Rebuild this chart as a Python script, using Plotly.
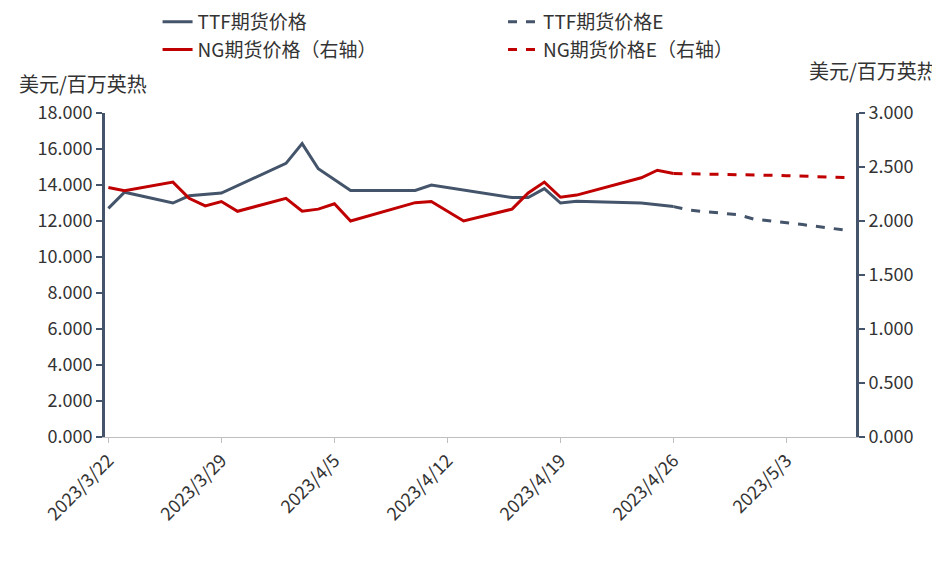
import plotly.graph_objects as go
import pandas as pd

base = pd.Timestamp("2023-03-22")
ttf_days = [0, 1, 4, 5, 7, 11, 12, 13, 15, 19, 20, 25, 26, 27, 28, 29, 33, 35]
ttf_vals = [12.7, 13.6, 13.0, 13.4, 13.55, 15.2, 16.3, 14.9, 13.7, 13.7, 14.0, 13.3, 13.3, 13.8, 13.0, 13.1, 13.0, 12.8]
ttfe_days = [35, 36, 39, 40, 43, 46]
ttfe_vals = [12.8, 12.6, 12.35, 12.1, 11.8, 11.45]
ng_days = [0, 1, 4, 5, 6, 7, 8, 11, 12, 13, 14, 15, 19, 20, 22, 25, 26, 27, 28, 29, 33, 34, 35]
ng_vals = [2.31, 2.28, 2.36, 2.21, 2.14, 2.18, 2.09, 2.21, 2.09, 2.11, 2.16, 2.0, 2.17, 2.18, 2.0, 2.11, 2.26, 2.36, 2.22, 2.24, 2.40, 2.47, 2.44]
nge_days = [35, 42, 46]
nge_vals = [2.44, 2.42, 2.40]
tick_dates = ["2023-03-22", "2023-03-29", "2023-04-05", "2023-04-12", "2023-04-19", "2023-04-26", "2023-05-03"]
tick_text = ["2023/3/22", "2023/3/29", "2023/4/5", "2023/4/12", "2023/4/19", "2023/4/26", "2023/5/3"]

d = lambda days: [base + pd.Timedelta(days=x) for x in days]
C1, C2 = "#44546A", "#C00000"
F = "Microsoft YaHei, Noto Sans CJK SC, sans-serif"

fig = go.Figure()
fig.add_trace(go.Scatter(x=d(ttf_days), y=ttf_vals, name="TTF期货价格", mode="lines", line=dict(color=C1, width=3)))
fig.add_trace(go.Scatter(x=d(ttfe_days), y=ttfe_vals, name="TTF期货价格E", mode="lines", line=dict(color=C1, width=3, dash="dash"), legend="legend2"))
fig.add_trace(go.Scatter(x=d(ng_days), y=ng_vals, name="NG期货价格（右轴）", mode="lines", line=dict(color=C2, width=3), yaxis="y2"))
fig.add_trace(go.Scatter(x=d(nge_days), y=nge_vals, name="NG期货价格E（右轴）", mode="lines", line=dict(color=C2, width=3, dash="dash"), yaxis="y2", legend="legend2"))

leg = dict(orientation="v", yanchor="top", xanchor="left", font=dict(size=19), tracegroupgap=0, bgcolor="rgba(0,0,0,0)")
fig.update_layout(
    width=940, height=565, plot_bgcolor="white", paper_bgcolor="white",
    margin=dict(l=97, r=92, t=105, b=136, autoexpand=False),
    font=dict(family=F, size=18, color="#333333"),
    showlegend=True,
    legend=dict(leg, x=0.07, y=1.34),
    legend2=dict(leg, x=0.53, y=1.34),
    xaxis=dict(type="date", range=[base - pd.Timedelta(hours=5), base + pd.Timedelta(days=46.3)],
               tickvals=tick_dates, ticktext=tick_text, tickangle=-45, showgrid=False,
               showline=True, linecolor="#BFBFBF", linewidth=1, ticks="outside", ticklen=5, tickcolor="#BFBFBF"),
    yaxis=dict(range=[0, 18], dtick=2, tickformat=".3f", showgrid=False, showline=True,
               linecolor=C1, linewidth=3, ticks="outside", ticklen=6, tickcolor=C1, tickwidth=2, zeroline=False),
    yaxis2=dict(range=[0, 3], dtick=0.5, tickformat=".3f", overlaying="y", side="right", showgrid=False,
                showline=True, linecolor=C1, linewidth=3, ticks="outside", ticklen=6, tickcolor=C1, tickwidth=2, zeroline=False),
    annotations=[
        dict(text="美元/百万英热", xref="paper", yref="paper", x=-0.117, y=1.04, xanchor="left", yanchor="bottom",
             showarrow=False, font=dict(size=20, color="#333333")),
        dict(text="美元/百万英热", xref="paper", yref="paper", x=1.11, y=1.08, xanchor="right", yanchor="bottom",
             showarrow=False, font=dict(size=20, color="#333333")),
    ],
)
fig.write_html("out.html")
